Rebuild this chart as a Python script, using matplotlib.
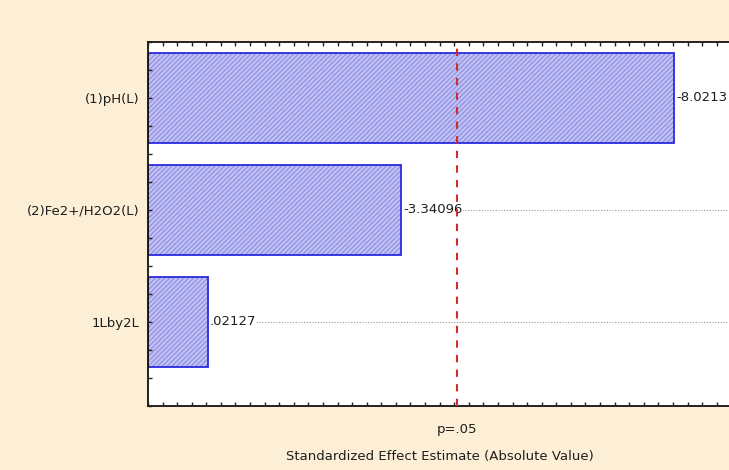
import matplotlib
matplotlib.use("Agg")
import matplotlib.pyplot as plt
from matplotlib.ticker import MultipleLocator, FixedLocator

# Data
factors = ["(1)pH(L)", "(2)Fe2+/H2O2(L)", "1Lby2L"]
effects = [-8.0213, -3.34096, 0.02127]
effect_labels = ["-8.0213", "-3.34096", ".02127"]
p_crit = 4.303
p_label = "p=.05"
x_min, x_max = -1.0, 9.0

bg = "#fcefd6"
fig = plt.figure(figsize=(7.29, 4.70), dpi=100, facecolor=bg)
ax = fig.add_axes([148/729, 1 - 406/470, 583.3/729, 364/470])
ax.set_facecolor("white")
ax.set_axisbelow(False)

ypos = list(range(len(factors)))
absvals = [abs(v) for v in effects]
widths = [a - x_min for a in absvals]

plt.rcParams['hatch.linewidth'] = 0.6
for y in ypos:
    ax.axhline(y, color="#9a9a9a", lw=0.8, ls=(0, (1, 1.5)), zorder=0.5)

ax.barh(ypos, widths, left=x_min, height=0.8, color="#c0c0f4",
        edgecolor="#7f7fdc", hatch="///////", lw=0, zorder=1.6)
ax.barh(ypos, widths, left=x_min, height=0.8, fill=False,
        edgecolor="#2a2ae0", lw=1.3, zorder=1.7)

for y, a, lab in zip(ypos, absvals, effect_labels):
    ax.text(a + 0.03, y, lab, va="center", ha="left", fontsize=9.5,
            color="#1e1e1e", zorder=4,
            bbox=dict(boxstyle="square,pad=0.05", fc="white", ec="none"))

ax.axvline(p_crit, color="#d42a2a", lw=1.5, ls=(0, (3.5, 3.5)), zorder=5)

ax.set_xlim(x_min, x_max)
ax.set_ylim(2.75, -0.5)

ax.xaxis.set_major_locator(FixedLocator([p_crit]))
ax.set_xticklabels([p_label])
ax.xaxis.set_minor_locator(MultipleLocator(0.25))
ax.tick_params(axis="x", which="major", direction="in", length=0, pad=12,
               labelsize=9.5, labelcolor="#1e1e1e", top=False)
ax.tick_params(axis="x", which="minor", direction="in", length=3, width=1,
               top=True, bottom=True, color="#222222")

ax.set_yticks(ypos)
ax.set_yticklabels(factors)
ax.yaxis.set_minor_locator(MultipleLocator(0.25))
ax.tick_params(axis="y", which="both", direction="in", length=3, width=1,
               left=True, right=False, color="#222222", labelsize=9.5,
               labelcolor="#1e1e1e", pad=6)

for s in ["left", "top", "bottom"]:
    ax.spines[s].set_linewidth(1.3)
    ax.spines[s].set_color("#111111")
ax.spines["right"].set_visible(False)

ax.set_xlabel("Standardized Effect Estimate (Absolute Value)", fontsize=9.5,
              color="#1e1e1e", labelpad=10)

fig.savefig("out.png", dpi=100, facecolor=bg)
